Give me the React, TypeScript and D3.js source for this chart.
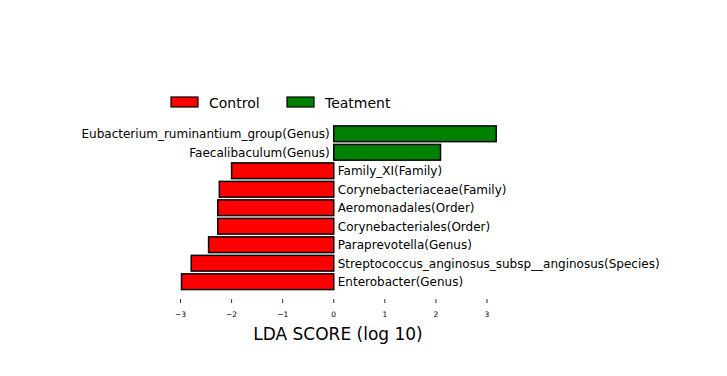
import React from "react";
import * as d3 from "d3";

const taxa = [
  "Eubacterium_ruminantium_group(Genus)",
  "Faecalibaculum(Genus)",
  "Family_XI(Family)",
  "Corynebacteriaceae(Family)",
  "Aeromonadales(Order)",
  "Corynebacteriales(Order)",
  "Paraprevotella(Genus)",
  "Streptococcus_anginosus_subsp__anginosus(Species)",
  "Enterobacter(Genus)",
];
const ldaScores = [3.18, 2.09, -2.0, -2.24, -2.27, -2.27, -2.45, -2.79, -2.98];
const groups = ["Control", "Teatment"];
const groupColors = ["#ff0000", "#008000"];
const xTicks = [-3, -2, -1, 0, 1, 2, 3];

const font = "DejaVu Sans, sans-serif";

export default function App() {
  const W = 727, H = 376;
  const x = d3.scaleLinear().domain([-3, 3]).range([180.5, 487]);
  const y = d3.scaleBand<string>().domain(taxa).range([125, 290.5]).paddingInner(0.15).paddingOuter(0.05);
  const x0 = x(0);
  const fmt = (v: number) => (v < 0 ? "\u2212" + Math.abs(v) : String(v));
  return (
    <svg width={W} height={H} style={{ position: "absolute", left: 0, top: 0 }}>
      <rect width={W} height={H} fill="#fff" />
      {/* legend */}
      {groups.map((g, i) => {
        const lx = i === 0 ? 171 : 287;
        return (
          <g key={g}>
            <rect x={lx} y={97} width={27} height={10} fill={groupColors[i]} stroke="#000" strokeWidth={1.2} />
            <text x={lx + 38} y={107.5} fontFamily={font} fontSize={14} fill="#000">{g}</text>
          </g>
        );
      })}
      {/* bars */}
      {taxa.map((t, i) => {
        const v = ldaScores[i];
        const y0 = y(t)!;
        const bw = y.bandwidth();
        const left = Math.min(x(v), x0);
        const width = Math.abs(x(v) - x0);
        const color = v > 0 ? groupColors[1] : groupColors[0];
        return (
          <g key={t}>
            <rect x={left} y={y0} width={width} height={bw} fill={color} stroke="#000" strokeWidth={1.5} />
            <text
              x={v > 0 ? x0 - 4 : x0 + 4}
              y={y0 + bw / 2 + 0.5}
              dy="0.35em"
              textAnchor={v > 0 ? "end" : "start"}
              fontFamily={font}
              fontSize={12}
              fill="#000"
            >
              {t}
            </text>
          </g>
        );
      })}
      {/* x ticks */}
      {xTicks.map((t) => (
        <g key={t}>
          <line x1={x(t)} x2={x(t)} y1={299} y2={303} stroke="#000" strokeWidth={0.8} />
          <text x={x(t)} y={317} textAnchor="middle" fontFamily={font} fontSize={7.5} fill="#000">
            {fmt(t)}
          </text>
        </g>
      ))}
      <text x={338} y={340} textAnchor="middle" fontFamily={font} fontSize={17} fill="#000">
        LDA SCORE (log 10)
      </text>
    </svg>
  );
}
